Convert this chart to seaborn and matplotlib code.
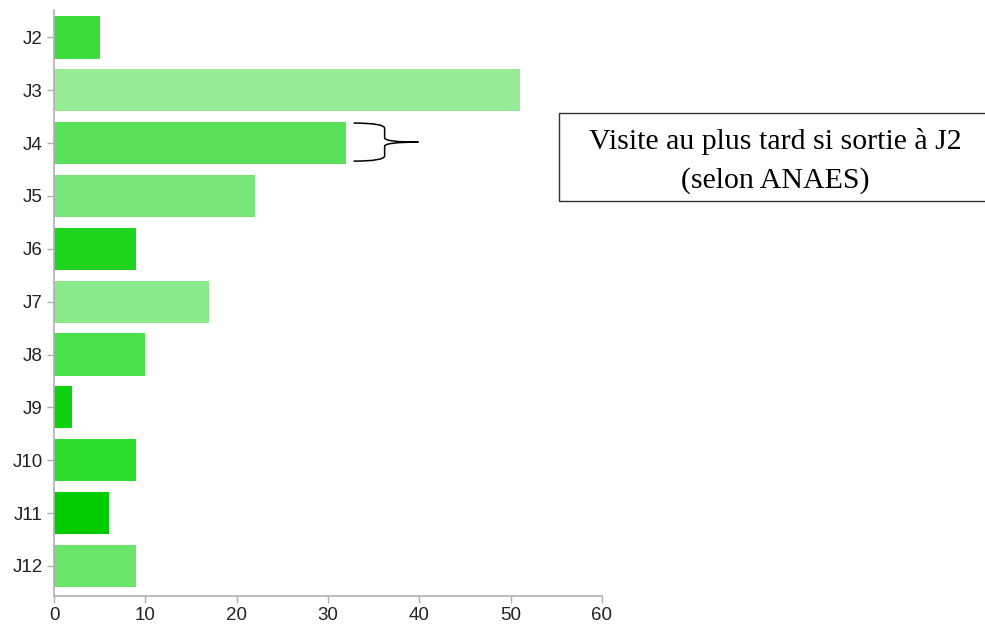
import matplotlib
matplotlib.use("Agg")
import matplotlib.pyplot as plt
import seaborn as sns
import pandas as pd
from matplotlib.path import Path
from matplotlib.patches import PathPatch, Rectangle

categories = ["J2", "J3", "J4", "J5", "J6", "J7", "J8", "J9", "J10", "J11", "J12"]
values = [5, 51, 32, 22, 9, 17, 10, 2, 9, 6, 9]
colors = ["#3ddc3d", "#98ec98", "#5ae05a", "#79e679", "#1fd41f", "#8aea8a",
          "#4ae04a", "#0dd20d", "#2ddb2d", "#00cc00", "#6ae46a"]
xticks = [0, 10, 20, 30, 40, 50, 60]
note = "Visite au plus tard si sortie à J2\n(selon ANAES)"

sns.set_style("white")
plt.rcParams["font.family"] = ["Liberation Sans", "DejaVu Sans"]

df = pd.DataFrame({"jour": categories, "n": values})
fig = plt.figure(figsize=(9.85, 6.3), dpi=100)
ax = fig.add_axes([54/985, 34/630, (602-54)/985, (596-10)/630])
sns.barplot(data=df, y="jour", x="n", hue="jour", palette=dict(zip(categories, colors)),
            order=categories, hue_order=categories, legend=False, width=0.8,
            saturation=1, ax=ax, edgecolor="none")
ax.set_xlim(0, 60)
ax.set_ylim(10.57, -0.52)
ax.set_xticks(xticks)
ax.set_xlabel("")
ax.set_ylabel("")
for s in ["top", "right"]:
    ax.spines[s].set_visible(False)
for s in ["left", "bottom"]:
    ax.spines[s].set_color("#b0b0b0")
    ax.spines[s].set_linewidth(1.2)
ax.tick_params(axis="both", which="both", length=5, width=1, color="#b0b0b0",
               labelsize=13.5, labelcolor="#222222", direction="out", pad=3,
               left=True, bottom=True)

# curly brace next to J4
xa, xm, xt = 32.8, 36.2, 39.9
y0, y1, ym = 1.62, 2.34, 1.98
verts = [(xa, y0), (xm, y0), (xm, y0 + 0.10), (xm, ym - 0.08), (xm, ym), (xt, ym),
         (xt, ym), (xm, ym), (xm, ym + 0.08), (xm, y1 - 0.10), (xm, y1), (xa, y1)]
codes = [Path.MOVETO, Path.CURVE3, Path.CURVE3, Path.LINETO, Path.CURVE3, Path.CURVE3,
         Path.MOVETO, Path.CURVE3, Path.CURVE3, Path.LINETO, Path.CURVE3, Path.CURVE3]
ax.add_patch(PathPatch(Path(verts, codes), facecolor="none", edgecolor="black",
                       lw=1.1, clip_on=False))

# note box
fig.patches.append(Rectangle((559/985, (630-201)/630), 0.5, 88/630,
                             transform=fig.transFigure, facecolor="white",
                             edgecolor="#333333", lw=1.0))
fig.text(775/985, (630-161)/630, note, ha="center", va="center",
         family=["Liberation Serif", "DejaVu Serif"], fontsize=21.5,
         linespacing=1.6, color="black")

fig.savefig("out.png", dpi=100)
